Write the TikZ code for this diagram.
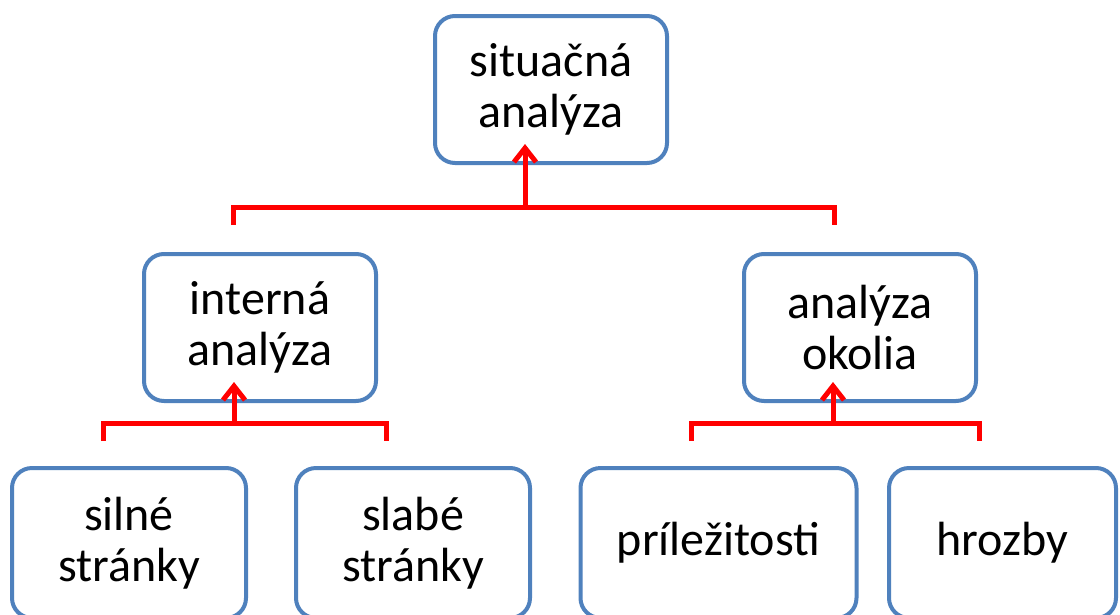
\documentclass[tikz,border=0pt]{standalone}
\usepackage{fontspec}
\setmainfont{Carlito}
\usetikzlibrary{arrows.meta}
\definecolor{boxblue}{HTML}{4F81BD}
\definecolor{linkred}{HTML}{FF0000}
\begin{document}
\begin{tikzpicture}[x=1pt,y=-1pt,
 box/.style={draw=boxblue,line width=4pt,rounded corners=20pt,fill=white,inner sep=0pt,
   minimum height=147pt,align=center,font=\fontsize{48}{51}\selectfont},
 link/.style={draw=linkred,line width=5pt},
 uplink/.style={link,-{Straight Barb[length=14pt,width=22pt]}}]
\clip (0,0) rectangle (1120,614);
\useasboundingbox (0,0) rectangle (1120,614);

\node[box,minimum width=232pt] (top) at (551,89.5) {situačná\\analýza};
\node[box,minimum width=232pt] (int) at (260,327.5) {interná\\analýza};
\node[box,minimum width=232pt] (env) at (860,327.5) {analýza\\okolia};
\node[box,minimum width=234pt,minimum height=150pt] (str) at (129,543) {silné\\stránky};
\node[box,minimum width=234pt,minimum height=150pt] (wea) at (413,543) {slabé\\stránky};
\node[box,minimum width=276pt,minimum height=150pt] (opp) at (718.5,543) {príležitosti};
\node[box,minimum width=227pt,minimum height=150pt] (thr) at (1002.5,543) {hrozby};

% top bracket
\coordinate (tl) at (233,225);
\coordinate (tr) at (834,225);
\coordinate (tj) at (525,207);
\draw[link] (tl) |- (tj) -| (tr);
\draw[uplink] (tj) -- ([xshift=-26pt,yshift=21pt]top.south);

% lower left bracket
\coordinate (ll) at (103,441);
\coordinate (lr) at (386,441);
\coordinate (lj) at (234,423);
\draw[link] (ll) |- (lj) -| (lr);
\draw[uplink] (lj) -- ([xshift=-26pt,yshift=21pt]int.south);

% lower right bracket
\coordinate (rl) at (691,441);
\coordinate (rr) at (979,441);
\coordinate (rj) at (833,423);
\draw[link] (rl) |- (rj) -| (rr);
\draw[uplink] (rj) -- ([xshift=-27pt,yshift=21pt]env.south);
\end{tikzpicture}
\end{document}
